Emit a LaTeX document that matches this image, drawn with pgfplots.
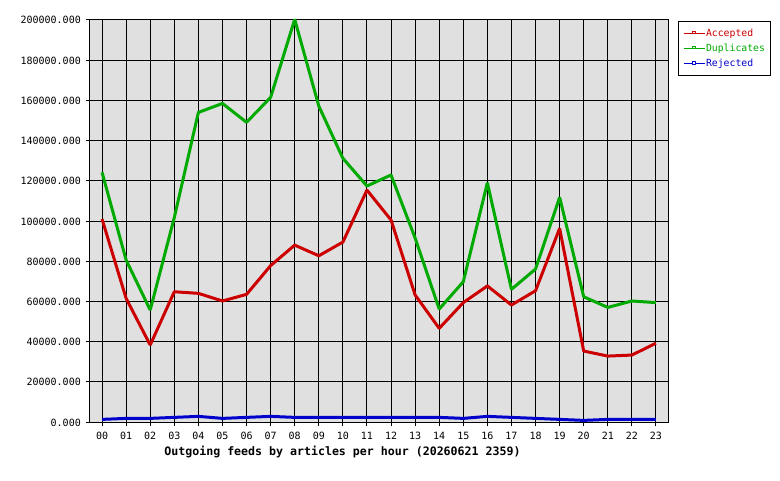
\documentclass[border=0pt]{standalone}
\usepackage{pgfplots}
\pgfplotsset{compat=1.18}
\usepackage{pgfplotstable}
\usepackage{fontspec}
\setmainfont{DejaVu Sans Mono}
\definecolor{bgc}{HTML}{E0E0E0}
\definecolor{acc}{HTML}{CC0000}
\definecolor{dup}{HTML}{00AA00}
\definecolor{rej}{HTML}{0000CC}
\pgfplotstableread{
h acc dup rej
0 101000 124200 1300
1 61500 80600 1800
2 38300 55700 1800
3 64800 101700 2300
4 64000 154000 2800
5 60200 158500 1800
6 63500 149100 2300
7 77800 161500 2800
8 88000 200300 2300
9 82700 157200 2300
10 89500 131200 2300
11 115400 117400 2300
12 100500 122900 2300
13 63200 91500 2300
14 46600 56200 2300
15 59400 69800 1800
16 67700 119000 2800
17 58200 66000 2300
18 65300 76100 1800
19 96300 111800 1300
20 35300 62300 800
21 32800 57000 1300
22 33300 60200 1300
23 39200 59400 1300
}\datatable
\begin{document}
\begin{tikzpicture}
\path[use as bounding box] (-90pt,-58pt) rectangle (690pt,422pt);
\begin{axis}[
  at={(0pt,0pt)}, anchor=south west,
  scale only axis, width=578pt, height=402pt,
  xmin=-0.5, xmax=23.5, ymin=0, ymax=200000,
  clip=false,
  axis background/.style={fill=bgc},
  xtick={0,...,23},
  xticklabels={00,01,02,03,04,05,06,07,08,09,10,11,12,13,14,15,16,17,18,19,20,21,22,23},
  ytick={0,20000,40000,60000,80000,100000,120000,140000,160000,180000,200000},
  yticklabels={0.000,20000.000,40000.000,60000.000,80000.000,100000.000,120000.000,140000.000,160000.000,180000.000,200000.000},
  scaled y ticks=false,
  tick pos=left,
  grid=major, grid style={black, line width=1pt},
  axis line style={black, line width=1pt},
  tick style={black, line width=1pt},
  tick align=outside, major tick length=4pt,
  xticklabel style={anchor=base, yshift=-13pt, inner sep=0pt, font=\fontsize{10}{12}\selectfont},
  yticklabel style={anchor=base east, xshift=-5pt, yshift=-4pt, inner sep=0pt, font=\fontsize{10}{12}\selectfont},
  legend style={at={(1.0173,0.9975)}, anchor=north west, draw=black, line width=1pt, fill=white,
    inner xsep=4.5pt, inner ysep=7pt, row sep=5.2pt,
    nodes={inner xsep=1pt, inner ysep=0pt, text height=7.5pt, text depth=2.5pt},
    font=\fontsize{9.8}{12}\selectfont},
  legend cell align=left,
  legend image code/.code={%
    \draw[#1, line width=1pt] (0pt,0pt) -- (21pt,0pt);
    \draw[#1, line width=0.8pt, fill=white] (8.5pt,0pt) rectangle (12pt,2.5pt);},
]
\addplot[acc, line width=3pt, line join=bevel] table[x=h, y=acc] {\datatable};
\addlegendentry{\textcolor{acc}{Accepted}}
\addplot[dup, line width=3pt, line join=bevel] table[x=h, y=dup] {\datatable};
\addlegendentry{\textcolor{dup}{Duplicates}}
\addplot[rej, line width=3pt, line join=bevel] table[x=h, y=rej] {\datatable};
\addlegendentry{\textcolor{rej}{Rejected}}
\end{axis}
\node[anchor=base, font=\bfseries\fontsize{11.6}{14}\selectfont] at (252.5pt,-33.5pt) {Outgoing feeds by articles per hour (20260621 2359)};
\end{tikzpicture}
\end{document}
